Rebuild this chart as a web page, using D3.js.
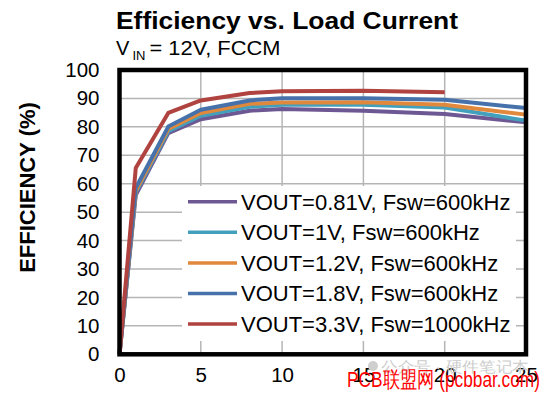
<!DOCTYPE html>
<html>
<head>
<meta charset="utf-8">
<script src="https://cdn.jsdelivr.net/npm/d3@7"></script>
<style>
  html, body { margin: 0; padding: 0; background: #fff; }
  svg { display: block; }
  text { font-family: "Liberation Sans", Arial, sans-serif; }
</style>
</head>
<body>
<svg id="chart" width="548" height="393"></svg>
<script>
// ---- data ----
const loadCurrent = [0, 1, 3, 5, 8, 10, 15, 20, 25];
const eff081 = [0, 56.0, 77.8, 82.7, 85.7, 86.3, 85.7, 84.5, 81.6];
const eff1   = [0, 57.0, 78.5, 83.9, 87.1, 87.8, 87.8, 86.8, 82.2];
const eff12  = [0, 57.5, 79.3, 84.9, 88.1, 88.6, 88.7, 87.8, 84.3];
const eff18  = [0, 58.5, 80.1, 86.0, 89.3, 90.1, 90.1, 89.5, 86.6];
const eff33  = [0, 65.5, 84.9, 89.3, 91.9, 92.5, 92.7, 92.2];
const seriesNames = [
  "VOUT=0.81V, Fsw=600kHz",
  "VOUT=1V, Fsw=600kHz",
  "VOUT=1.2V, Fsw=600kHz",
  "VOUT=1.8V, Fsw=600kHz",
  "VOUT=3.3V, Fsw=1000kHz"
];
const seriesColors = ["#6e5893", "#42a0bd", "#e0883c", "#4671aa", "#b0433f"];
const xTicks = [0, 5, 10, 15, 20, 25];
const yTicks = [0, 10, 20, 30, 40, 50, 60, 70, 80, 90, 100];

const seriesValues = [eff081, eff1, eff12, eff18, eff33];
const series = seriesNames.map((name, i) => ({
  name, color: seriesColors[i],
  points: seriesValues[i].map((v, j) => [loadCurrent[j], v])
}));

// ---- layout ----
const svg = d3.select("#chart");
const pL = 119.5, pR = 526, pT = 70, pB = 354.3;
const x = d3.scaleLinear().domain([0, 25]).range([pL, pR]);
const y = d3.scaleLinear().domain([0, 100]).range([pB, pT]);

// grid
const grid = svg.append("g");
grid.selectAll("line.v").data(xTicks.slice(1, -1)).join("line")
  .attr("x1", d => x(d)).attr("x2", d => x(d))
  .attr("y1", pT).attr("y2", pB)
  .attr("stroke", "#b5b5b5").attr("stroke-width", 1.5);
grid.selectAll("line.h").data(yTicks.slice(1, -1)).join("line")
  .attr("x1", pL).attr("x2", pR)
  .attr("y1", d => y(d)).attr("y2", d => y(d))
  .attr("stroke", "#b5b5b5").attr("stroke-width", 1.5);

// legend background
const legX = 182, legY = 186, legRowH = 30.6;
svg.append("rect").attr("x", legX).attr("y", legY)
  .attr("width", 334).attr("height", 155).attr("fill", "#fff");

// series lines
const line = d3.line().x(d => x(d[0])).y(d => y(d[1]));
svg.append("g").selectAll("path").data(series).join("path")
  .attr("d", d => line(d.points))
  .attr("fill", "none")
  .attr("stroke", d => d.color)
  .attr("stroke-width", 4)
  .attr("stroke-linejoin", "round");

// legend entries
const leg = svg.append("g").selectAll("g").data(series).join("g")
  .attr("transform", (d, i) => `translate(0, ${201.7 + i * legRowH})`);
leg.append("line").attr("x1", 188).attr("x2", 237).attr("y1", 0).attr("y2", 0)
  .attr("stroke", d => d.color).attr("stroke-width", 3.5);
leg.append("text").attr("x", 241).attr("y", 0).attr("dy", "0.36em")
  .attr("font-size", 22).attr("fill", "#000").text(d => d.name);

// frame
svg.append("rect").attr("x", pL).attr("y", pT)
  .attr("width", pR - pL).attr("height", pB - pT)
  .attr("fill", "none").attr("stroke", "#000").attr("stroke-width", 4.5);

// axes (labels only, via d3 axes)
const yAxis = svg.append("g").attr("transform", `translate(${pL - 17},0)`)
  .call(d3.axisLeft(y).tickValues(yTicks).tickSize(0).tickPadding(3));
yAxis.select(".domain").remove();
yAxis.selectAll("text").attr("font-size", 20.5).attr("fill", "#000")
  .attr("font-family", "'Liberation Sans', Arial, sans-serif");

const xAxis = svg.append("g").attr("transform", `translate(0,${pB + 10})`)
  .call(d3.axisBottom(x).tickValues(xTicks).tickSize(0).tickPadding(3));
xAxis.select(".domain").remove();
xAxis.selectAll("text").attr("font-size", 20.5).attr("fill", "#000")
  .attr("font-family", "'Liberation Sans', Arial, sans-serif");

// y title
svg.append("text")
  .attr("transform", "translate(35,187.5) rotate(-90)")
  .attr("text-anchor", "middle").attr("font-size", 22).attr("font-weight", "bold")
  .text("EFFICIENCY (%)");

// title
svg.append("text").attr("x", 116).attr("y", 28.5)
  .attr("font-size", 24).attr("font-weight", "bold")
  .attr("textLength", 342).attr("lengthAdjust", "spacingAndGlyphs")
  .text("Efficiency vs. Load Current");

// subtitle
const sub = svg.append("g");
sub.append("text").attr("x", 116).attr("y", 54.5).attr("font-size", 20).text("V");
sub.append("text").attr("x", 132.5).attr("y", 60).attr("font-size", 13).text("IN");
sub.append("text").attr("x", 149.5).attr("y", 54.5).attr("font-size", 20)
  .attr("textLength", 131).attr("lengthAdjust", "spacingAndGlyphs")
  .text("= 12V, FCCM");

// watermarks
const wm = svg.append("g");
wm.append("circle").attr("cx", 373).attr("cy", 366).attr("r", 5).attr("fill", "#cfcfcf");
wm.append("text").attr("x", 381).attr("y", 372).attr("font-size", 15)
  .attr("fill", "#cccccc").attr("font-family", "'Noto Sans CJK SC', sans-serif")
  .attr("textLength", 148).attr("lengthAdjust", "spacingAndGlyphs")
  .text("公众号 · 硬件笔记本");
wm.append("text").attr("x", 347).attr("y", 387).attr("font-size", 22)
  .attr("fill", "#ff0000").attr("font-family", "'Noto Sans CJK SC', sans-serif")
  .attr("textLength", 193).attr("lengthAdjust", "spacingAndGlyphs")
  .text("PCB联盟网 (pcbbar.com)");
</script>
</body>
</html>
